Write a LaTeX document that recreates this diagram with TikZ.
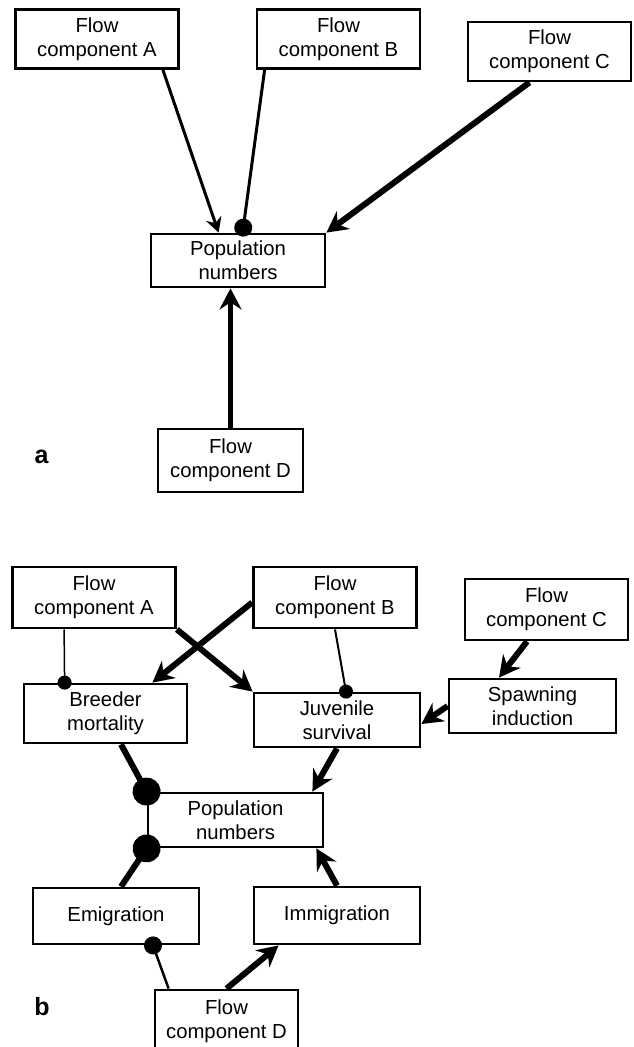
\documentclass[tikz,border=0pt]{standalone}
\usepackage{fontspec}
\setmainfont{Liberation Sans}
\usepackage{tikz}
\usetikzlibrary{arrows.meta}

\tikzset{
  box/.style={draw, line width=2.8pt, rectangle, align=center, inner sep=0pt,
    minimum width=163pt, minimum height=59pt, font=\fontsize{20.3}{24}\selectfont},
  promote/.style={-{Stealth[length=15pt,width=16pt,inset=5pt]}, line width=3pt},
  bigpromote/.style={-{Stealth[length=21pt,width=22pt,inset=7pt]}, line width=6pt},
  inhibit/.style={-{Circle[length=18pt]}, line width=3pt, shorten >=-4pt},
  panel/.style={font=\fontsize{25}{25}\selectfont\bfseries}
}

\begin{document}
\begin{tikzpicture}[x=1pt,y=-1pt]
    \clip (0,0) rectangle (633,1047);

    \node[box] (FA) at (97,39) {Flow\\component A};
    \node[box] (FB) at (338.5,39) {Flow\\component B};
    \node[box] (FC) at (549.5,51.5) {Flow\\component C};
    \node[box, minimum width=174pt, minimum height=53pt] (Pa) at (238,260.5) {Population\\numbers};
    \node[box, minimum width=145pt, minimum height=63pt] (FD) at (230.5,460.5) {Flow\\component D};
    \node[panel] (a) at (41.5,456.5) {a};

    \path
    ([xshift=-17pt]FA.south east) edge [promote] ([xshift=69pt]Pa.north west)
    ([xshift=9pt]FB.south west) edge [inhibit] ([xshift=93pt]Pa.north west)
    ([xshift=-20pt]FC.south) edge [bigpromote] (Pa.north east)
    (FD.north) edge [bigpromote, line width=5pt] (FD.north |- Pa.south)
    ;

    \node[box, minimum height=61pt] (FA2) at (94,597.5) {Flow\\component A};
    \node[box, minimum height=61pt] (FB2) at (335,597.5) {Flow\\component B};
    \node[box, minimum height=61pt] (FC2) at (546.5,609.5) {Flow\\component C};
    \node[box] (BM) at (105.5,713.5) {Breeder\\mortality};
    \node[box, minimum width=166pt, minimum height=54pt] (JS) at (337,720) {Juvenile\\survival};
    \node[box, minimum width=167pt, minimum height=54pt] (SI) at (532.5,706) {Spawning\\induction};
    \node[box, minimum width=175pt, minimum height=54pt] (Pb) at (235.5,820) {Population\\numbers};
    \node[box, minimum width=166pt, minimum height=56pt] (EM) at (116,916) {Emigration};
    \node[box, minimum width=166pt, minimum height=57pt] (IM) at (337,915.5) {Immigration};
    \node[box, minimum width=143pt, minimum height=62pt] (FD2) at (226.5,1021) {Flow\\component D};
    \node[panel] (b) at (42,1007) {b};

    \path
    (FA2.south east) edge [bigpromote] (JS.north west)
    ([yshift=-5pt]FB2.west) edge [bigpromote] ([xshift=-36pt]BM.north east)
    ([xshift=53pt]FA2.south west) edge [inhibit, line width=1.5pt, -{Circle[length=14pt]}, shorten >=-7pt] ([xshift=42pt]BM.north west)
    (FB2.south) edge [inhibit, line width=2pt, -{Circle[length=14pt]}, shorten >=-7pt] ([xshift=9pt]JS.north)
    ([xshift=-19.5pt]FC2.south) edge [bigpromote] ([xshift=-33.5pt]SI.north)
    (SI.west) edge [bigpromote] ([yshift=-4pt]JS.east)
    ([xshift=15.5pt]BM.south) edge [inhibit, line width=6pt, -{Circle[length=28pt]}, shorten >=-14pt] (Pb.north west)
    ([xshift=5pt]EM.north) edge [inhibit, line width=6pt, -{Circle[length=28pt]}, shorten >=-14pt] (Pb.south west)
    (JS.south) edge [bigpromote] ([xshift=-12pt]Pb.north east)
    (IM.north) edge [bigpromote] ([xshift=-8pt]Pb.south east)
    ([xshift=15pt]FD2.north west) edge [inhibit, line width=2.5pt, shorten >=-9pt] ([xshift=37pt]EM.south)
    (FD2.north) edge [bigpromote] ([xshift=26pt]IM.south west)
    ;
\end{tikzpicture}
\end{document}
